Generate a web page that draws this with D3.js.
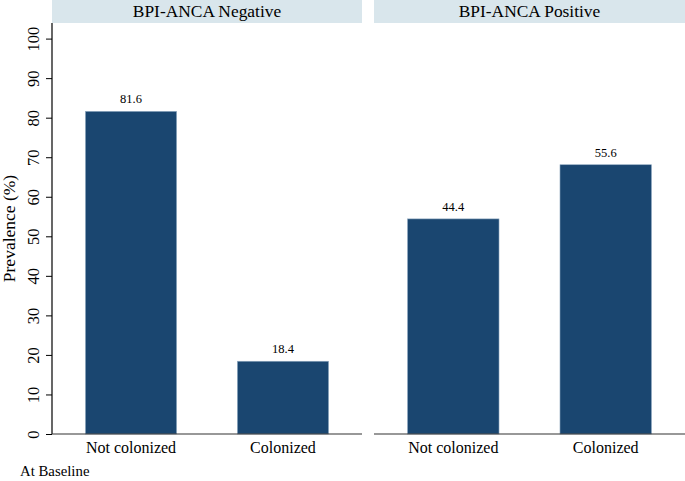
<!DOCTYPE html>
<html>
<head>
<meta charset="utf-8">
<script src="https://cdn.jsdelivr.net/npm/d3@7"></script>
<style>
  body { margin: 0; background: #fff; }
  svg text { font-family: 'Liberation Serif', 'Times New Roman', Times, serif; fill: #000; }
</style>
</head>
<body>
<div id="chart"></div>
<script>
// data
const panels = ['BPI-ANCA Negative', 'BPI-ANCA Positive'];
const categories = ['Not colonized', 'Colonized'];
// bar heights as drawn
const barHeights = [[81.6, 18.4], [54.4, 68.1]];
// labels printed above bars
const barLabels = [['81.6', '18.4'], ['44.4', '55.6']];
const yTicks = [0, 10, 20, 30, 40, 50, 60, 70, 80, 90, 100];

const W = 685, H = 481;
const svg = d3.select('#chart').append('svg')
  .attr('width', W).attr('height', H);

const plotTop = 23, base = 434;
const y = d3.scaleLinear().domain([0, 100]).range([base, 38.6]);
const panelX = [[52, 362], [374, 685]];

// y axis (left panel only)
const yAxis = svg.append('g')
  .attr('transform', `translate(${panelX[0][0]},0)`)
  .call(d3.axisLeft(y).tickValues(yTicks).tickSize(6).tickPadding(8));
yAxis.attr('font-family', null);
yAxis.select('.domain').remove();
yAxis.selectAll('.tick line').attr('stroke', '#000');
yAxis.selectAll('.tick text')
  .style('font-size', '16.5px')
  .attr('text-anchor', 'middle')
  .attr('dy', 0)
  .attr('transform', 'rotate(-90)')
  .attr('x', 0)
  .attr('y', -13.5);
svg.append('line')
  .attr('x1', panelX[0][0]).attr('x2', panelX[0][0])
  .attr('y1', plotTop).attr('y2', base)
  .attr('stroke', '#000').attr('stroke-width', 1.2);

svg.append('text')
  .attr('transform', `translate(15,${(plotTop + base) / 2}) rotate(-90)`)
  .attr('text-anchor', 'middle')
  .style('font-size', '17.5px')
  .text('Prevalence (%)');

panels.forEach((p, i) => {
  const [x0, x1] = panelX[i];
  const g = svg.append('g');

  // strip header
  g.append('rect')
    .attr('x', x0).attr('y', 0)
    .attr('width', x1 - x0).attr('height', plotTop)
    .attr('fill', '#d9e6ec');
  g.append('text')
    .attr('x', (x0 + x1) / 2).attr('y', 16.5)
    .attr('text-anchor', 'middle')
    .style('font-size', '17.4px')
    .text(p);

  const x = d3.scaleBand().domain(categories).range([x0, x1])
    .paddingInner(0.4).paddingOuter(0.22);

  const data = categories.map((c, j) => ({ c, v: barHeights[i][j], lab: barLabels[i][j] }));

  g.selectAll('rect.bar')
    .data(data)
    .join('rect')
    .attr('class', 'bar')
    .attr('x', d => x(d.c))
    .attr('width', x.bandwidth())
    .attr('y', d => y(d.v))
    .attr('height', d => base - y(d.v))
    .attr('fill', '#1a4670')
    .attr('stroke', '#8fa9c0')
    .attr('stroke-width', 0.6);

  g.selectAll('text.lab')
    .data(data)
    .join('text')
    .attr('class', 'lab')
    .attr('x', d => x(d.c) + x.bandwidth() / 2)
    .attr('y', d => y(d.v) - 8)
    .attr('text-anchor', 'middle')
    .style('font-size', '12.5px')
    .text(d => d.lab);

  // baseline + category labels
  const xAxis = g.append('g')
    .attr('transform', `translate(0,${base})`)
    .call(d3.axisBottom(x).tickSize(0).tickPadding(8));
  xAxis.attr('font-family', null);
  xAxis.select('.domain')
    .attr('stroke', '#333').attr('stroke-width', 1.2)
    .attr('d', `M${x0},0H${x1}`);
  xAxis.selectAll('.tick text')
    .style('font-size', '16px');
});

svg.append('text')
  .attr('x', 20).attr('y', 476)
  .style('font-size', '14.8px')
  .text('At Baseline');
</script>
</body>
</html>
